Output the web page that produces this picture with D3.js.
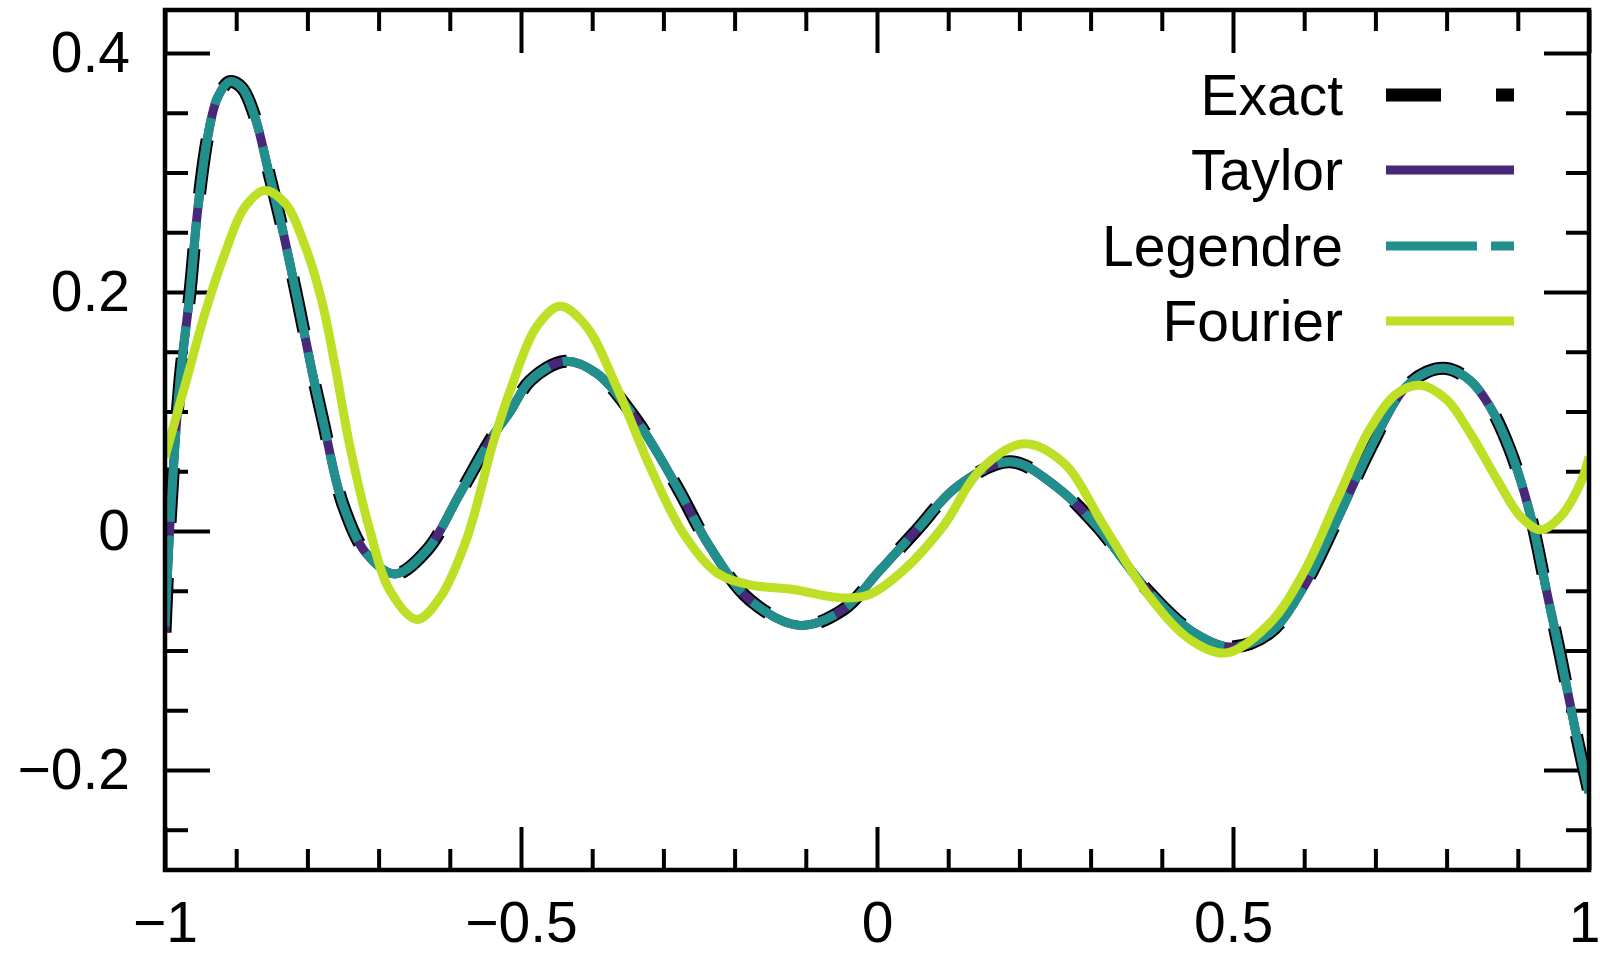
<!DOCTYPE html>
<html>
<head>
<meta charset="utf-8">
<script src="https://cdn.jsdelivr.net/npm/d3@7"></script>
<style>
  body { margin: 0; background: #fff; }
  text { font-family: "Liberation Sans", Arial, sans-serif; }
</style>
</head>
<body>
<script>
// values
const exactX = [-1.000, -0.993, -0.979, -0.965, -0.954, -0.940, -0.926, -0.909, -0.892, -0.874,
  -0.855, -0.836, -0.813, -0.794, -0.778, -0.750, -0.717, -0.677, -0.632, -0.586,
  -0.539, -0.515, -0.487, -0.438, -0.394, -0.338, -0.281, -0.235, -0.178, -0.108,
  -0.048, 0.004, 0.056, 0.112, 0.187, 0.252, 0.309, 0.379, 0.440, 0.496,
  0.552, 0.599, 0.646, 0.692, 0.739, 0.772, 0.800, 0.833, 0.861, 0.889,
  0.917, 0.941, 0.960, 0.982, 1.000];
const exactY = [-0.085, 0.006, 0.126, 0.199, 0.269, 0.330, 0.363, 0.376, 0.371, 0.347,
  0.302, 0.255, 0.191, 0.135, 0.092, 0.022, -0.019, -0.036, -0.016, 0.031,
  0.080, 0.100, 0.126, 0.142, 0.132, 0.093, 0.037, -0.013, -0.058, -0.079,
  -0.066, -0.033, 0.001, 0.037, 0.058, 0.037, 0.004, -0.049, -0.083, -0.097,
  -0.085, -0.047, 0.009, 0.068, 0.118, 0.133, 0.136, 0.126, 0.104, 0.068,
  0.015, -0.052, -0.105, -0.170, -0.219];
const taylorY = [-0.085, 0.006, 0.126, 0.199, 0.269, 0.330, 0.363, 0.376, 0.371, 0.347,
  0.302, 0.255, 0.191, 0.135, 0.092, 0.022, -0.019, -0.036, -0.016, 0.031,
  0.080, 0.100, 0.126, 0.142, 0.132, 0.093, 0.037, -0.013, -0.058, -0.079,
  -0.066, -0.033, 0.001, 0.037, 0.058, 0.037, 0.004, -0.049, -0.083, -0.097,
  -0.085, -0.047, 0.009, 0.068, 0.118, 0.133, 0.136, 0.126, 0.104, 0.068,
  0.015, -0.052, -0.105, -0.170, -0.219];
const legendreY = [-0.080, 0.006, 0.126, 0.199, 0.269, 0.330, 0.363, 0.376, 0.371, 0.347,
  0.302, 0.255, 0.191, 0.135, 0.092, 0.022, -0.019, -0.036, -0.016, 0.031,
  0.080, 0.100, 0.126, 0.142, 0.132, 0.093, 0.037, -0.013, -0.058, -0.079,
  -0.066, -0.033, 0.001, 0.037, 0.058, 0.037, 0.004, -0.049, -0.083, -0.097,
  -0.085, -0.047, 0.009, 0.068, 0.118, 0.133, 0.136, 0.126, 0.104, 0.068,
  0.015, -0.052, -0.105, -0.170, -0.219];
const fourierX = [-1.000, -0.970, -0.944, -0.916, -0.888, -0.860, -0.831, -0.803, -0.780, -0.761,
  -0.740, -0.712, -0.684, -0.646, -0.614, -0.576, -0.539, -0.515, -0.478, -0.445,
  -0.408, -0.366, -0.319, -0.272, -0.225, -0.178, -0.118, -0.048, -0.010, 0.037,
  0.093, 0.145, 0.206, 0.262, 0.317, 0.379, 0.440, 0.491, 0.552, 0.599,
  0.646, 0.692, 0.730, 0.763, 0.800, 0.833, 0.871, 0.904, 0.932, 0.960,
  0.988, 1.000];
const fourierY = [0.062, 0.126, 0.182, 0.232, 0.271, 0.285, 0.274, 0.238, 0.193, 0.138,
  0.070, 0.000, -0.050, -0.074, -0.056, -0.006, 0.074, 0.118, 0.171, 0.188,
  0.171, 0.121, 0.054, -0.002, -0.035, -0.045, -0.049, -0.056, -0.053, -0.033,
  0.004, 0.051, 0.073, 0.057, 0.006, -0.052, -0.091, -0.102, -0.077, -0.035,
  0.026, 0.085, 0.115, 0.122, 0.110, 0.082, 0.043, 0.012, 0.001, 0.012,
  0.040, 0.062];

const seriesNames = ["Exact", "Taylor", "Legendre", "Fourier"];
const xMajor = [-1, -0.5, 0, 0.5, 1];
const xMinor = [-0.9, -0.8, -0.7, -0.6, -0.4, -0.3, -0.2, -0.1, 0.1, 0.2, 0.3, 0.4, 0.6, 0.7, 0.8, 0.9];
const yMajor = [-0.2, 0, 0.2, 0.4];
const yMinor = [-0.25, -0.15, -0.1, -0.05, 0.05, 0.1, 0.15, 0.25, 0.3, 0.35];

const [width, height] = [1600, 960];
const plot = {left: 165, right: 1589, top: 10, bottom: 870};

let svg = d3.select("body").append("svg")
    .attr("width", width)
    .attr("height", height);

let x = d3.scaleLinear().domain([-1, 1]).range([plot.left, plot.right]);
let y = d3.scaleLinear().domain([-0.2837, 0.436]).range([plot.bottom, plot.top]);

const fmt = d3.format("~g");

function styleAxis(g) {
  g.select(".domain").remove();
  g.selectAll(".tick line").attr("stroke", "#000").attr("stroke-width", 4);
  g.selectAll("text").attr("font-size", 57).attr("fill", "#000")
    .attr("font-family", "'Liberation Sans', Arial, sans-serif");
}

// bottom
svg.append("g").attr("transform", `translate(0,${plot.bottom})`)
  .call(d3.axisBottom(x).tickValues(xMajor).tickSize(-43).tickPadding(32).tickFormat(fmt))
  .call(styleAxis)
  .selectAll("text").filter(d => d === 1).attr("dx", -5); // keep the last label inside the page
svg.append("g").attr("transform", `translate(0,${plot.bottom})`)
  .call(d3.axisBottom(x).tickValues(xMinor).tickSize(-21).tickFormat(""))
  .call(styleAxis);
// top
svg.append("g").attr("transform", `translate(0,${plot.top})`)
  .call(d3.axisTop(x).tickValues(xMajor).tickSize(-43).tickFormat(""))
  .call(styleAxis);
svg.append("g").attr("transform", `translate(0,${plot.top})`)
  .call(d3.axisTop(x).tickValues(xMinor).tickSize(-21).tickFormat(""))
  .call(styleAxis);
// left
svg.append("g").attr("transform", `translate(${plot.left},0)`)
  .call(d3.axisLeft(y).tickValues(yMajor).tickSize(-45).tickPadding(35).tickFormat(fmt))
  .call(styleAxis);
svg.append("g").attr("transform", `translate(${plot.left},0)`)
  .call(d3.axisLeft(y).tickValues(yMinor).tickSize(-23).tickFormat(""))
  .call(styleAxis);
// right
svg.append("g").attr("transform", `translate(${plot.right},0)`)
  .call(d3.axisRight(y).tickValues(yMajor).tickSize(-45).tickFormat(""))
  .call(styleAxis);
svg.append("g").attr("transform", `translate(${plot.right},0)`)
  .call(d3.axisRight(y).tickValues(yMinor).tickSize(-23).tickFormat(""))
  .call(styleAxis);

svg.append("clipPath").attr("id", "clip")
  .append("rect")
  .attr("x", plot.left).attr("y", plot.top)
  .attr("width", plot.right - plot.left).attr("height", plot.bottom - plot.top);

const line = d3.line()
  .x(d => x(d[0]))
  .y(d => y(d[1]))
  .curve(d3.curveCatmullRom.alpha(0.5));

const series = [
  {xs: exactX,   ys: exactY,    color: "#000000", width: 13, dash: "55,55"},
  {xs: exactX,   ys: taylorY,   color: "#482878", width: 9,  dash: null},
  {xs: exactX,   ys: legendreY, color: "#21908d", width: 9,  dash: "91,14"},
  {xs: fourierX, ys: fourierY,  color: "#bddf26", width: 9,  dash: null}
];

let curves = svg.append("g").attr("clip-path", "url(#clip)");
series.forEach(s => {
  curves.append("path")
    .datum(d3.zip(s.xs, s.ys))
    .attr("d", line)
    .attr("fill", "none")
    .attr("stroke", s.color)
    .attr("stroke-width", s.width)
    .attr("stroke-dasharray", s.dash)
    .attr("stroke-linejoin", "round");
});

// frame
svg.append("rect")
  .attr("x", plot.left).attr("y", plot.top)
  .attr("width", plot.right - plot.left).attr("height", plot.bottom - plot.top)
  .attr("fill", "none").attr("stroke", "#000").attr("stroke-width", 4.5);

// legend
const legendRows = [95, 170, 246, 321];
let legend = svg.append("g");
series.forEach((s, i) => {
  legend.append("text")
    .attr("x", 1343).attr("y", legendRows[i] + 20)
    .attr("text-anchor", "end")
    .attr("font-size", 57)
    .text(seriesNames[i]);
  legend.append("line")
    .attr("x1", 1386).attr("x2", 1514)
    .attr("y1", legendRows[i]).attr("y2", legendRows[i])
    .attr("stroke", s.color)
    .attr("stroke-width", s.width)
    .attr("stroke-dasharray", s.dash);
});
</script>
</body>
</html>
